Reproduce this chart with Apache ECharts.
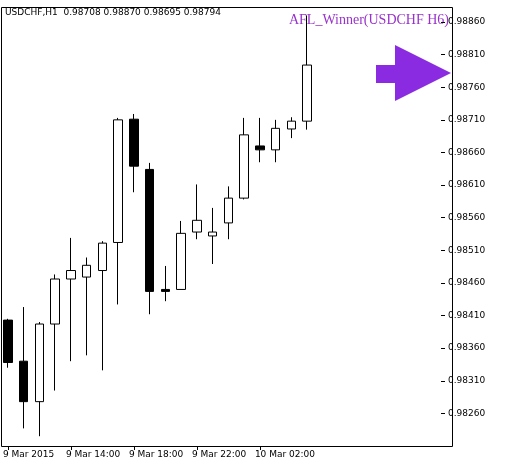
<!DOCTYPE html>
<html><head><meta charset="utf-8">
<script src="https://cdn.jsdelivr.net/npm/echarts@6/dist/echarts.min.js"></script>
<style>html,body{margin:0;padding:0;background:#fff}#c{width:510px;height:465px}</style>
</head><body><div id="c"></div>
<script>
const times = ["9 Mar 10:00","9 Mar 11:00","9 Mar 12:00","9 Mar 13:00","9 Mar 14:00","9 Mar 15:00","9 Mar 16:00","9 Mar 17:00","9 Mar 18:00","9 Mar 19:00","9 Mar 20:00","9 Mar 21:00","9 Mar 22:00","9 Mar 23:00","10 Mar 00:00","10 Mar 01:00","10 Mar 02:00","10 Mar 03:00","10 Mar 04:00","10 Mar 05:00"];
const opens  = [0.98403,0.98340,0.98278,0.98397,0.98466,0.98469,0.98479,0.98522,0.98711,0.98634,0.98450,0.98450,0.98538,0.98532,0.98552,0.98590,0.98670,0.98664,0.98696,0.98708];
const closes = [0.98338,0.98278,0.98397,0.98466,0.98479,0.98487,0.98521,0.98710,0.98639,0.98447,0.98447,0.98536,0.98556,0.98538,0.98590,0.98687,0.98664,0.98697,0.98708,0.98794];
const lows   = [0.98330,0.98237,0.98225,0.98295,0.98340,0.98349,0.98326,0.98427,0.98599,0.98412,0.98432,0.98450,0.98527,0.98489,0.98527,0.98588,0.98645,0.98645,0.98682,0.98695];
const highs  = [0.98405,0.98423,0.98400,0.98473,0.98529,0.98499,0.98524,0.98713,0.98719,0.98644,0.98486,0.98555,0.98611,0.98575,0.98608,0.98713,0.98713,0.98710,0.98714,0.98870];
const yTicks = {min:0.98210, max:0.98883, step:0.0005};
const xLabelIdx = {0:"9 Mar 2015",4:"9 Mar 14:00",8:"9 Mar 18:00",12:"9 Mar 22:00",16:"10 Mar 02:00"};

const N = 28;
const cats = [];
for (let i=0;i<N;i++) cats.push(i<times.length?times[i]:"s"+i);
const data = times.map((t,i)=>[opens[i],closes[i],lows[i],highs[i]]);

const chart = echarts.init(document.getElementById('c'));
chart.setOption({
  animation:false,
  grid:{left:-7, width:448, top:7, bottom:19, show:false},
  xAxis:{type:'category', data:cats, boundaryGap:true,
    axisLine:{show:false},
    axisTick:{show:true, alignWithLabel:true, interval:(i)=>i in xLabelIdx, length:4, lineStyle:{color:'#000'}},
    axisLabel:{interval:(i)=>i in xLabelIdx, formatter:(v,i)=>xLabelIdx[i]||'', align:'left', color:'#000', fontSize:9, fontFamily:'Tahoma, DejaVu Sans, sans-serif', margin:4, padding:[0,0,0,-5]}
  },
  yAxis:{type:'value', position:'right', min:yTicks.min, max:yTicks.max, interval:yTicks.step, scale:true,
    splitLine:{show:false}, axisLine:{show:false},
    axisTick:{show:true, inside:false, length:4, lineStyle:{color:'#000'}},
    axisLabel:{showMinLabel:false, showMaxLabel:false, formatter:v=>v.toFixed(5), color:'#000', fontSize:9, fontFamily:'Tahoma, DejaVu Sans, sans-serif', margin:7}
  },
  series:[{type:'candlestick', data:data, barWidth:9,
    itemStyle:{color:'#fff', color0:'#000', borderColor:'#000', borderColor0:'#000', borderWidth:1}}],
  graphic:[
    {type:'rect', shape:{x:1.5,y:7.5,width:451,height:439}, style:{fill:null, stroke:'#000', lineWidth:1}, z:100},
    {type:'text', left:5, top:8, style:{text:'USDCHF,H1  0.98708 0.98870 0.98695 0.98794', fill:'#000', font:'9px Tahoma, DejaVu Sans, sans-serif'}},
    {type:'text', right:61, top:13, style:{text:'AFL_Winner(USDCHF H6)', fill:'#9932CC', font:'14px "Liberation Serif", serif'}},
    {type:'polygon', shape:{points:[[376,65],[395,65],[395,45],[451,73],[395,101],[395,83],[376,83]]}, style:{fill:'#8A2BE2'}}
  ]
});
</script></body></html>
